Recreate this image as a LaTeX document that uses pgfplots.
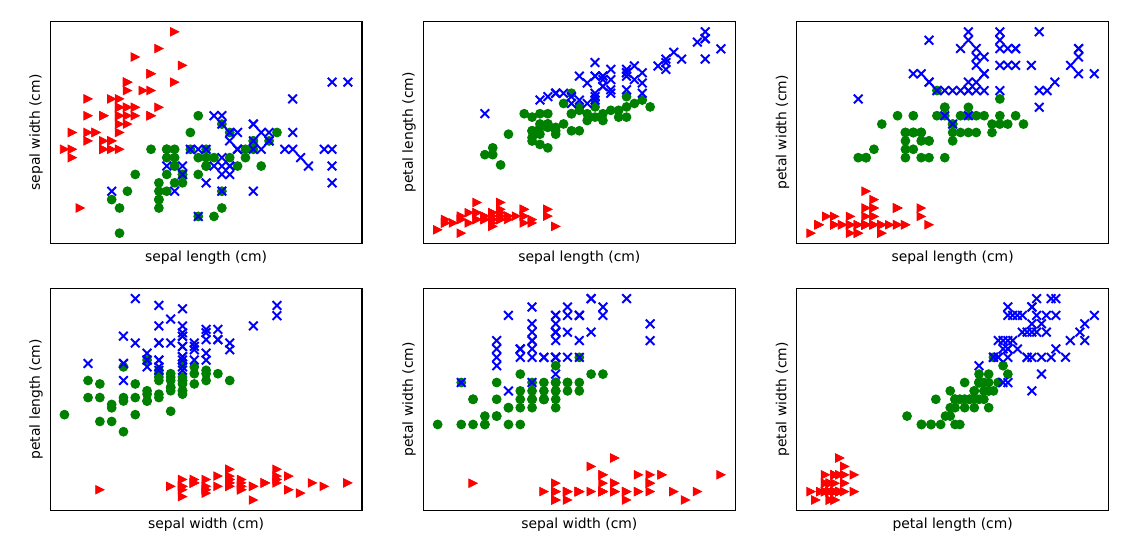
\documentclass[border=0pt]{standalone}
\usepackage{fontspec}
\setmainfont{DejaVu Sans}
\usepackage{pgfplots}
\usepackage{pgfplotstable}
\pgfplotsset{compat=1.18}
\definecolor{mplred}{rgb}{1,0,0}
\definecolor{mplgreen}{rgb}{0,0.5,0}
\definecolor{mplblue}{rgb}{0,0,1}
\pgfdeclareplotmark{tri>}{%
  \pgfpathmoveto{\pgfqpoint{\pgfplotmarksize}{0pt}}%
  \pgfpathlineto{\pgfqpoint{-\pgfplotmarksize}{\pgfplotmarksize}}%
  \pgfpathlineto{\pgfqpoint{-\pgfplotmarksize}{-\pgfplotmarksize}}%
  \pgfpathclose\pgfusepathqfillstroke}

\pgfplotstableread{
sl sw pl pw
5.1 3.5 1.4 0.2
4.9 3.0 1.4 0.2
4.7 3.2 1.3 0.2
4.6 3.1 1.5 0.2
5.0 3.6 1.4 0.2
5.4 3.9 1.7 0.4
4.6 3.4 1.4 0.3
5.0 3.4 1.5 0.2
4.4 2.9 1.4 0.2
4.9 3.1 1.5 0.1
5.4 3.7 1.5 0.2
4.8 3.4 1.6 0.2
4.8 3.0 1.4 0.1
4.3 3.0 1.1 0.1
5.8 4.0 1.2 0.2
5.7 4.4 1.5 0.4
5.4 3.9 1.3 0.4
5.1 3.5 1.4 0.3
5.7 3.8 1.7 0.3
5.1 3.8 1.5 0.3
5.4 3.4 1.7 0.2
5.1 3.7 1.5 0.4
4.6 3.6 1.0 0.2
5.1 3.3 1.7 0.5
4.8 3.4 1.9 0.2
5.0 3.0 1.6 0.2
5.0 3.4 1.6 0.4
5.2 3.5 1.5 0.2
5.2 3.4 1.4 0.2
4.7 3.2 1.6 0.2
4.8 3.1 1.6 0.2
5.4 3.4 1.5 0.4
5.2 4.1 1.5 0.1
5.5 4.2 1.4 0.2
4.9 3.1 1.5 0.2
5.0 3.2 1.2 0.2
5.5 3.5 1.3 0.2
4.9 3.6 1.4 0.1
4.4 3.0 1.3 0.2
5.1 3.4 1.5 0.2
5.0 3.5 1.3 0.3
4.5 2.3 1.3 0.3
4.4 3.2 1.3 0.2
5.0 3.5 1.6 0.6
5.1 3.8 1.9 0.4
4.8 3.0 1.4 0.3
5.1 3.8 1.6 0.2
4.6 3.2 1.4 0.2
5.3 3.7 1.5 0.2
5.0 3.3 1.4 0.2
}\setosa

\pgfplotstableread{
sl sw pl pw
7.0 3.2 4.7 1.4
6.4 3.2 4.5 1.5
6.9 3.1 4.9 1.5
5.5 2.3 4.0 1.3
6.5 2.8 4.6 1.5
5.7 2.8 4.5 1.3
6.3 3.3 4.7 1.6
4.9 2.4 3.3 1.0
6.6 2.9 4.6 1.3
5.2 2.7 3.9 1.4
5.0 2.0 3.5 1.0
5.9 3.0 4.2 1.5
6.0 2.2 4.0 1.0
6.1 2.9 4.7 1.4
5.6 2.9 3.6 1.3
6.7 3.1 4.4 1.4
5.6 3.0 4.5 1.5
5.8 2.7 4.1 1.0
6.2 2.2 4.5 1.5
5.6 2.5 3.9 1.1
5.9 3.2 4.8 1.8
6.1 2.8 4.0 1.3
6.3 2.5 4.9 1.5
6.1 2.8 4.7 1.2
6.4 2.9 4.3 1.3
6.6 3.0 4.4 1.4
6.8 2.8 4.8 1.4
6.7 3.0 5.0 1.7
6.0 2.9 4.5 1.5
5.7 2.6 3.5 1.0
5.5 2.4 3.8 1.1
5.5 2.4 3.7 1.0
5.8 2.7 3.9 1.2
6.0 2.7 5.1 1.6
5.4 3.0 4.5 1.5
6.0 3.4 4.5 1.6
6.7 3.1 4.7 1.5
6.3 2.3 4.4 1.3
5.6 3.0 4.1 1.3
5.5 2.5 4.0 1.3
5.5 2.6 4.4 1.2
6.1 3.0 4.6 1.4
5.8 2.6 4.0 1.2
5.0 2.3 3.3 1.0
5.6 2.7 4.2 1.3
5.7 3.0 4.2 1.2
5.7 2.9 4.2 1.3
6.2 2.9 4.3 1.3
5.1 2.5 3.0 1.1
5.7 2.8 4.1 1.3
}\versicolor

\pgfplotstableread{
sl sw pl pw
6.3 3.3 6.0 2.5
5.8 2.7 5.1 1.9
7.1 3.0 5.9 2.1
6.3 2.9 5.6 1.8
6.5 3.0 5.8 2.2
7.6 3.0 6.6 2.1
4.9 2.5 4.5 1.7
7.3 2.9 6.3 1.8
6.7 2.5 5.8 1.8
7.2 3.6 6.1 2.5
6.5 3.2 5.1 2.0
6.4 2.7 5.3 1.9
6.8 3.0 5.5 2.1
5.7 2.5 5.0 2.0
5.8 2.8 5.1 2.4
6.4 3.2 5.3 2.3
6.5 3.0 5.5 1.8
7.7 3.8 6.7 2.2
7.7 2.6 6.9 2.3
6.0 2.2 5.0 1.5
6.9 3.2 5.7 2.3
5.6 2.8 4.9 2.0
7.7 2.8 6.7 2.0
6.3 2.7 4.9 1.8
6.7 3.3 5.7 2.1
7.2 3.2 6.0 1.8
6.2 2.8 4.8 1.8
6.1 3.0 4.9 1.8
6.4 2.8 5.6 2.1
7.2 3.0 5.8 1.6
7.4 2.8 6.1 1.9
7.9 3.8 6.4 2.0
6.4 2.8 5.6 2.2
6.3 2.8 5.1 1.5
6.1 2.6 5.6 1.4
7.7 3.0 6.1 2.3
6.3 3.4 5.6 2.4
6.4 3.1 5.5 1.8
6.0 3.0 4.8 1.8
6.9 3.1 5.4 2.1
6.7 3.1 5.6 2.4
6.9 3.1 5.1 2.3
5.8 2.7 5.1 1.9
6.8 3.2 5.9 2.3
6.7 3.3 5.7 2.5
6.7 3.0 5.2 2.3
6.3 2.5 5.0 1.9
6.5 3.0 5.2 2.0
6.2 3.4 5.4 2.3
5.9 3.0 5.1 1.8
}\virginica

\pgfplotsset{
  irisax/.style={
    scale only axis, width=224.4pt, height=159.5pt, anchor=south west,
    xtick=\empty, ytick=\empty, clip=false,
    axis line style={line width=0.8pt},
    xlabel style={at={(axis description cs:0.5,0)}, anchor=north, inner sep=0pt, outer ysep=5.5pt},
    ylabel style={at={(axis description cs:0,0.5)}, rotate=0, anchor=south, inner sep=0pt, outer ysep=5.5pt},
  },
  slr/.style={xmin=4.12, xmax=8.08},
  swr/.style={xmin=1.88, xmax=4.52},
  plr/.style={xmin=0.705, xmax=7.195},
  pwr/.style={xmin=-0.02, xmax=2.62},
  ysw/.style={ymin=1.88, ymax=4.52},
  ypl/.style={ymin=0.705, ymax=7.195},
  ypw/.style={ymin=-0.02, ymax=2.62},
  set/.style={only marks, mark=tri>, mark size=3pt, mark options={solid, fill=mplred, draw=mplred, line width=0.6pt}},
  ver/.style={only marks, mark=*, mark size=3.1pt, mark options={solid, fill=mplgreen, draw=mplgreen, line width=0.8pt}},
  vir/.style={only marks, mark=x, mark size=4.4pt, mark options={solid, draw=mplblue, line width=1.4pt}},
}

\begin{document}
\begin{tikzpicture}
\useasboundingbox (0,0) rectangle (810.72pt,386.64pt);
% row 1
\begin{axis}[irisax, at={(36.2pt,211.5pt)}, slr, ysw, xlabel={sepal length (cm)}, ylabel={sepal width (cm)}]
\addplot[set] table[x=sl,y=sw]{\setosa};
\addplot[ver] table[x=sl,y=sw]{\versicolor};
\addplot[vir] table[x=sl,y=sw]{\virginica};
\end{axis}
\begin{axis}[irisax, at={(304.9pt,211.5pt)}, slr, ypl, xlabel={sepal length (cm)}, ylabel={petal length (cm)}]
\addplot[set] table[x=sl,y=pl]{\setosa};
\addplot[ver] table[x=sl,y=pl]{\versicolor};
\addplot[vir] table[x=sl,y=pl]{\virginica};
\end{axis}
\begin{axis}[irisax, at={(573.7pt,211.5pt)}, slr, ypw, xlabel={sepal length (cm)}, ylabel={petal width (cm)}]
\addplot[set] table[x=sl,y=pw]{\setosa};
\addplot[ver] table[x=sl,y=pw]{\versicolor};
\addplot[vir] table[x=sl,y=pw]{\virginica};
\end{axis}
% row 2
\begin{axis}[irisax, at={(36.2pt,19.4pt)}, swr, ypl, xlabel={sepal width (cm)}, ylabel={petal length (cm)}]
\addplot[set] table[x=sw,y=pl]{\setosa};
\addplot[ver] table[x=sw,y=pl]{\versicolor};
\addplot[vir] table[x=sw,y=pl]{\virginica};
\end{axis}
\begin{axis}[irisax, at={(304.9pt,19.4pt)}, swr, ypw, xlabel={sepal width (cm)}, ylabel={petal width (cm)}]
\addplot[set] table[x=sw,y=pw]{\setosa};
\addplot[ver] table[x=sw,y=pw]{\versicolor};
\addplot[vir] table[x=sw,y=pw]{\virginica};
\end{axis}
\begin{axis}[irisax, at={(573.7pt,19.4pt)}, plr, ypw, xlabel={petal length (cm)}, ylabel={petal width (cm)}]
\addplot[set] table[x=pl,y=pw]{\setosa};
\addplot[ver] table[x=pl,y=pw]{\versicolor};
\addplot[vir] table[x=pl,y=pw]{\virginica};
\end{axis}
\end{tikzpicture}
\end{document}
